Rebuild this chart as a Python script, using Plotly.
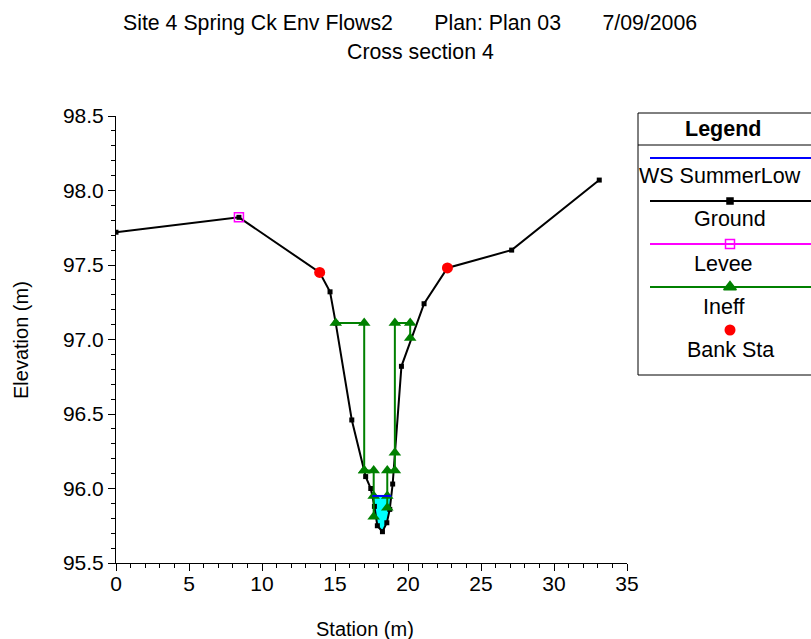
import numpy as np
import plotly.graph_objects as go

# ---- cross-section data ----
ground_sta = [0.0, 8.42, 13.95, 14.66, 15.05, 16.15, 17.1, 17.45, 17.7, 17.9,
              18.25, 18.55, 18.75, 18.95, 19.55, 21.1, 22.7, 27.1, 33.1]
ground_elev = [97.72, 97.82, 97.45, 97.32, 97.11, 96.46, 96.08, 96.0, 95.88, 95.75,
               95.71, 95.77, 95.86, 96.03, 96.82, 97.24, 97.48, 97.60, 98.07]

levee_sta = [8.42]
levee_elev = [97.82]

bank_sta = [13.95, 22.7]
bank_elev = [97.45, 97.48]

# ineffective flow area outlines (None separates blocks)
ineff_sta = [15.05, 17.0, 17.0, None,
             17.0, 17.65, 17.65, 17.65, None,
             18.58, 18.58, 18.58, 19.1, 19.1, 19.1, 20.15, 20.15]
ineff_elev = [97.11, 97.11, 96.12, None,
              96.12, 96.12, 95.95, 95.81, None,
              95.87, 95.95, 96.12, 96.12, 96.24, 97.11, 97.11, 97.01]

ws_elev = 95.95
ws_name = "WS SummerLow"

title_line1 = ("Site 4 Spring Ck Env Flows2" + "\u00a0" * 7 + "Plan: Plan 03"
               + "\u00a0" * 7 + "7/09/2006")
title_line2 = "Cross section 4"

W, H = 811, 639
FONT = "Liberation Sans, Arial, sans-serif"


def px(x):
    return x / W


def py(y):
    return 1 - y / H


# water surface extent: where the ground profile crosses the WS elevation
gs = np.array(ground_sta)
ge = np.array(ground_elev)
low = np.argmin(ge)
left_i = max(i for i in range(low) if ge[i] >= ws_elev)
right_i = min(i for i in range(low, len(ge)) if ge[i] >= ws_elev)
x_left = np.interp(ws_elev, [ge[left_i + 1], ge[left_i]], [gs[left_i + 1], gs[left_i]])
x_right = np.interp(ws_elev, [ge[right_i - 1], ge[right_i]], [gs[right_i - 1], gs[right_i]])
fill_x = [x_left] + list(gs[left_i + 1:right_i]) + [x_right, x_left]
fill_y = [ws_elev] + list(ge[left_i + 1:right_i]) + [ws_elev, ws_elev]

fig = go.Figure()

fig.add_trace(go.Scatter(x=fill_x, y=fill_y, mode="lines", fill="toself",
                         fillcolor="#00ffff", line=dict(width=0), hoverinfo="skip",
                         showlegend=False))
fig.add_trace(go.Scatter(x=ground_sta, y=ground_elev, mode="lines+markers",
                         line=dict(color="black", width=2),
                         marker=dict(symbol="square", size=5, color="black"),
                         name="Ground", showlegend=False))
fig.add_trace(go.Scatter(x=ineff_sta, y=ineff_elev, mode="lines+markers",
                         line=dict(color="#008000", width=2),
                         marker=dict(symbol="triangle-up", size=11, color="#008000"),
                         name="Ineff", showlegend=False, connectgaps=False))
fig.add_trace(go.Scatter(x=[x_left, x_right], y=[ws_elev, ws_elev], mode="lines",
                         line=dict(color="#0000ff", width=2), name=ws_name,
                         showlegend=False))
fig.add_trace(go.Scatter(x=levee_sta, y=levee_elev, mode="markers",
                         marker=dict(symbol="square-open", size=9, color="#ff00ff",
                                     line=dict(width=1.5)),
                         name="Levee", showlegend=False))
fig.add_trace(go.Scatter(x=bank_sta, y=bank_elev, mode="markers",
                         marker=dict(symbol="circle", size=11, color="#ff0000"),
                         name="Bank Sta", showlegend=False))

# ---- custom legend panel (own axes in pixel units) ----
LX0, LX1, LY0, LY1 = 638, 811, 113, 375
leg_cx = 730
samples = [
    dict(name=ws_name, y=158, color="#0000ff", symbol=None),
    dict(name="Ground", y=201, color="black", symbol="square", size=6),
    dict(name="Levee", y=244, color="#ff00ff", symbol="square-open", size=9),
    dict(name="Ineff", y=287, color="#008000", symbol="triangle-up", size=11),
]
for s in samples:
    fig.add_trace(go.Scatter(x=[650, 811], y=[s["y"], s["y"]], mode="lines",
                             line=dict(color=s["color"], width=2),
                             xaxis="x2", yaxis="y2", showlegend=False, hoverinfo="skip"))
    if s["symbol"]:
        fig.add_trace(go.Scatter(x=[leg_cx], y=[s["y"]], mode="markers",
                                 marker=dict(symbol=s["symbol"], size=s["size"],
                                             color=s["color"], line=dict(width=1.5, color=s["color"])),
                                 xaxis="x2", yaxis="y2", showlegend=False, hoverinfo="skip"))
fig.add_trace(go.Scatter(x=[leg_cx], y=[330], mode="markers",
                         marker=dict(symbol="circle", size=11, color="#ff0000"),
                         xaxis="x2", yaxis="y2", showlegend=False, hoverinfo="skip"))

annotations = [
    dict(text="<b>Legend</b>", x=leg_cx - 7, y=129),
    dict(text=ws_name, x=leg_cx - 10, y=176),
    dict(text="Ground", x=leg_cx, y=219),
    dict(text="Levee", x=leg_cx - 7, y=264),
    dict(text="Ineff", x=leg_cx - 7, y=307),
    dict(text="Bank Sta", x=leg_cx, y=350),
]
for a in annotations:
    fig.add_annotation(text=a["text"], x=a["x"], y=a["y"], xref="x2", yref="y2",
                       showarrow=False, xanchor="center", yanchor="middle",
                       font=dict(family=FONT, size=21.5, color="black"))

# titles
fig.add_annotation(text=title_line1, x=px(410), y=py(23), xref="paper", yref="paper",
                   showarrow=False, xanchor="center", yanchor="middle",
                   font=dict(family=FONT, size=21.3, color="black"))
fig.add_annotation(text=title_line2, x=px(420), y=py(52), xref="paper", yref="paper",
                   showarrow=False, xanchor="center", yanchor="middle",
                   font=dict(family=FONT, size=21.3, color="black"))
fig.add_annotation(text="Station (m)", x=px(365), y=py(629), xref="paper", yref="paper",
                   showarrow=False, xanchor="center", yanchor="middle",
                   font=dict(family=FONT, size=20, color="black"))
fig.add_annotation(text="Elevation (m)", x=px(21), y=py(340), xref="paper", yref="paper",
                   showarrow=False, xanchor="center", yanchor="middle", textangle=-90,
                   font=dict(family=FONT, size=20, color="black"))

shapes = [
    dict(type="rect", xref="paper", yref="paper", x0=px(LX0), x1=px(LX1 + 10),
         y0=py(LY0), y1=py(LY1), line=dict(color="black", width=1)),
    dict(type="line", xref="paper", yref="paper", x0=px(LX0), x1=px(LX1 + 10),
         y0=py(145), y1=py(145), line=dict(color="black", width=1)),
]

axis_font = dict(family=FONT, size=21, color="black")
fig.update_layout(
    width=W, height=H,
    template="none",
    paper_bgcolor="white", plot_bgcolor="white",
    margin=dict(l=0, r=0, t=0, b=0, autoexpand=False),
    font=dict(family=FONT, color="black"),
    shapes=shapes,
    showlegend=False,
    xaxis=dict(domain=[px(116), px(627)], range=[0, 35], dtick=5, tick0=0,
               showgrid=False, zeroline=False, showline=True, linecolor="black",
               linewidth=1, ticks="outside", ticklen=7, tickcolor="black",
               tickfont=axis_font, automargin=False, anchor="y", ticklabelstandoff=-5,
               minor=dict(dtick=1, ticks="outside", ticklen=4, tickcolor="black", showgrid=False)),
    yaxis=dict(domain=[py(563), py(116)], range=[95.5, 98.5], dtick=0.5, tick0=95.5,
               tickformat=".1f", showgrid=False, zeroline=False, showline=True,
               linecolor="black", linewidth=1, ticks="outside", ticklen=7,
               tickcolor="black", tickfont=axis_font, automargin=False, anchor="x",
               minor=dict(dtick=0.1, ticks="outside", ticklen=4, tickcolor="black", showgrid=False)),
    xaxis2=dict(domain=[px(LX0), 1], range=[LX0, LX1], visible=False, anchor="y2",
                fixedrange=True),
    yaxis2=dict(domain=[py(LY1), py(LY0)], range=[LY1, LY0], visible=False, anchor="x2",
                fixedrange=True),
)

fig.write_html("out.html")
